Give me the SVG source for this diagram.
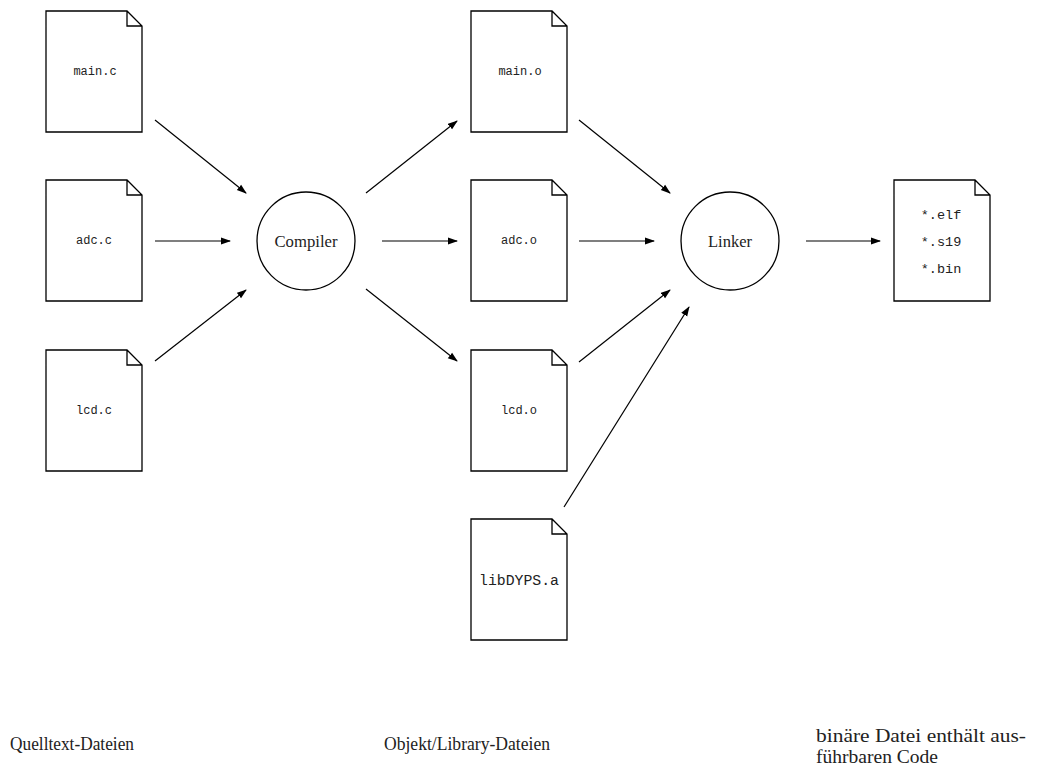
<svg xmlns="http://www.w3.org/2000/svg" width="1056" height="771" viewBox="0 0 1056 771">
<style>
.doc{fill:#fff;stroke:#000;stroke-width:1.3;stroke-linejoin:miter}
.node{fill:#fff;stroke:#000;stroke-width:1.3}
.mono{font-family:"Liberation Mono","DejaVu Sans Mono",monospace;font-size:12px;fill:#222;text-anchor:middle;dominant-baseline:central}
.out{font-size:13.5px}
.lib{font-size:14px}
.serif{font-family:"Liberation Serif","DejaVu Serif",serif;font-size:16px;fill:#222;text-anchor:middle;dominant-baseline:central}
.lbl{font-family:"Liberation Serif","DejaVu Serif",serif;font-size:18px;fill:#222}
.conn line{stroke:#000;stroke-width:1.2;marker-end:url(#ah)}
</style>
<defs>
<marker id="ah" markerWidth="10" markerHeight="8" refX="9" refY="4" orient="auto" markerUnits="userSpaceOnUse">
<path d="M0,0.5 L10,4 L0,7.5 Z" fill="#000"/>
</marker>
<path id="docshape" d="M0,0 H81 L96,15 V121 H0 Z M81,0 V15 H96"/>
</defs>
<g id="main_c"><use href="#docshape" class="doc" x="46" y="11"/><text class="mono" x="95" y="72">main.c</text></g>
<g id="adc_c"><use href="#docshape" class="doc" x="46" y="180"/><text class="mono" x="94" y="241">adc.c</text></g>
<g id="lcd_c"><use href="#docshape" class="doc" x="46" y="350"/><text class="mono" x="94" y="411">lcd.c</text></g>
<g id="compiler"><circle class="node" cx="306" cy="241" r="49"/><text class="serif" x="306" y="241" textLength="63" lengthAdjust="spacingAndGlyphs">Compiler</text></g>
<g id="main_o"><use href="#docshape" class="doc" x="471" y="11"/><text class="mono" x="520" y="72">main.o</text></g>
<g id="adc_o"><use href="#docshape" class="doc" x="471" y="180"/><text class="mono" x="519" y="241">adc.o</text></g>
<g id="lcd_o"><use href="#docshape" class="doc" x="471" y="350"/><text class="mono" x="519" y="411">lcd.o</text></g>
<g id="libDYPS"><use href="#docshape" class="doc" x="471" y="519"/><text class="mono lib" x="519" y="581" textLength="80" lengthAdjust="spacingAndGlyphs">libDYPS.a</text></g>
<g id="linker"><circle class="node" cx="730" cy="241" r="49"/><text class="serif" x="730" y="241" textLength="44" lengthAdjust="spacingAndGlyphs">Linker</text></g>
<g id="output"><use href="#docshape" class="doc" x="894" y="180"/><text class="mono out" x="941" y="215">*.elf</text><text class="mono out" x="941" y="242">*.s19</text><text class="mono out" x="941" y="269">*.bin</text></g>
<g id="connectors" class="conn">
<line x1="155" y1="120" x2="246" y2="193"/>
<line x1="155" y1="241" x2="230" y2="241"/>
<line x1="155" y1="361" x2="246" y2="290"/>
<line x1="366" y1="193" x2="457" y2="121"/>
<line x1="382" y1="241" x2="457" y2="241"/>
<line x1="366" y1="289" x2="457" y2="361"/>
<line x1="579" y1="120" x2="670" y2="193"/>
<line x1="579" y1="241" x2="654" y2="241"/>
<line x1="579" y1="362" x2="670" y2="290"/>
<line x1="564" y1="507" x2="689" y2="307"/>
<line x1="806" y1="241" x2="880" y2="241"/>
</g>
<g id="labels">
<text class="lbl" x="10" y="750" textLength="124" lengthAdjust="spacingAndGlyphs">Quelltext-Dateien</text>
<text class="lbl" x="384" y="750" textLength="166" lengthAdjust="spacingAndGlyphs">Objekt/Library-Dateien</text>
<text class="lbl" x="816" y="742" textLength="210" lengthAdjust="spacingAndGlyphs">binäre Datei enthält aus-</text>
<text class="lbl" x="816" y="763" textLength="122" lengthAdjust="spacingAndGlyphs">führbaren Code</text>
</g>
</svg>
